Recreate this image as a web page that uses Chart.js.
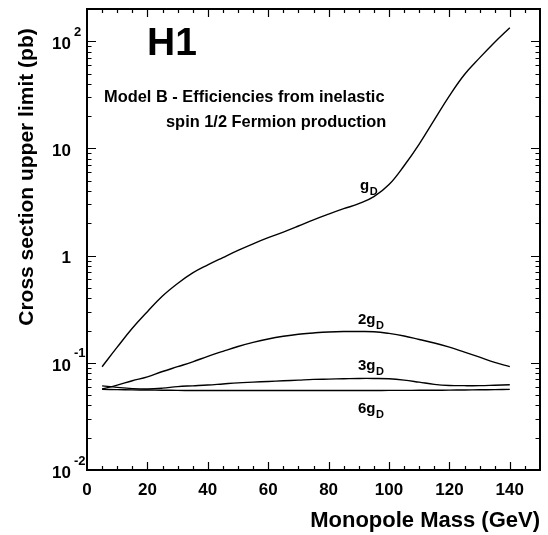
<!DOCTYPE html>
<html>
<head>
<meta charset="utf-8">
<script src="https://cdn.jsdelivr.net/npm/chart.js@4.4.1/dist/chart.umd.min.js"></script>
<style>
  html, body { margin: 0; padding: 0; background: #fff; }
  #wrap { width: 548px; height: 535px; }
</style>
</head>
<body>
<div id="wrap"><canvas id="c" width="548" height="535"></canvas></div>
<script>
// ---- data ----
const masses = [5,10,15,20,25,30,35,40,45,50,55,60,65,70,75,80,85,90,95,100,105,110,115,120,125,130,135,140];
const gD  = [0.092,0.14,0.21,0.30,0.42,0.55,0.69,0.82,0.96,1.12,1.29,1.47,1.66,1.89,2.16,2.44,2.74,3.05,3.55,4.6,6.9,11,18.5,31,49,70,98,134];
const g2D = [0.057,0.062,0.068,0.074,0.083,0.092,0.102,0.115,0.128,0.142,0.155,0.167,0.177,0.185,0.190,0.194,0.196,0.196,0.195,0.188,0.178,0.165,0.153,0.140,0.126,0.113,0.101,0.092];
const g3D = [0.061,0.059,0.0575,0.057,0.058,0.060,0.061,0.062,0.0635,0.065,0.066,0.067,0.068,0.069,0.070,0.0705,0.071,0.0715,0.0715,0.071,0.069,0.066,0.063,0.0615,0.0612,0.0612,0.0618,0.0625];
const g6D = [0.0565,0.0562,0.0559,0.0557,0.0555,0.0553,0.0552,0.0552,0.0552,0.0552,0.0552,0.0552,0.0552,0.0552,0.0552,0.0552,0.0552,0.0552,0.0552,0.0553,0.0553,0.0554,0.0555,0.0556,0.0558,0.0560,0.0562,0.0565];
const seriesNames = ["g", "2g", "3g", "6g"];
const xTickValues = [0,20,40,60,80,100,120,140];
const xTickLabels = ["0","20","40","60","80","100","120","140"];
const yTickValues = [100,10,1,0.1,0.01];
const yTickBase = ["10","10","1","10","10"];
const yTickExp  = ["2","","","-1","-2"];
const xTitle = "Monopole Mass (GeV)";
const yTitle = "Cross section upper limit (pb)";
const bigLabel = "H1";
const noteLines = ["Model B - Efficiencies from inelastic", "spin 1/2 Fermion production"];

const FONT = '"Liberation Sans", Arial, Helvetica, sans-serif';

function mk(arr){ return masses.map((m,i)=>({x:m, y:arr[i]})); }

const curveLabelPos = [
  {x: 360, y: 190, text: "g", sub: "D"},
  {x: 358, y: 324, text: "2g", sub: "D"},
  {x: 358, y: 369.5, text: "3g", sub: "D"},
  {x: 358, y: 413, text: "6g", sub: "D"}
];

const framePlugin = {
  id: 'frame',
  afterDraw(chart) {
    const ctx = chart.ctx;
    const a = chart.chartArea;
    const xs = chart.scales.x, ys = chart.scales.y;
    ctx.save();
    ctx.strokeStyle = '#000';
    ctx.fillStyle = '#000';
    // frame
    ctx.lineWidth = 2;
    ctx.strokeRect(a.left, a.top, a.right - a.left, a.bottom - a.top);
    ctx.lineWidth = 1.2;
    // x ticks (bottom and top, inward)
    for (let v = 5; v < 150; v += 5) {
      const px = Math.round(xs.getPixelForValue(v)) + 0.5;
      const major = (v % 20 === 0);
      const L = major ? 8 : 4;
      ctx.beginPath();
      ctx.moveTo(px, a.bottom); ctx.lineTo(px, a.bottom - L);
      ctx.moveTo(px, a.top); ctx.lineTo(px, a.top + L);
      ctx.stroke();
    }
    // y ticks (left and right, inward)
    for (let e = -2; e <= 2; e++) {
      for (let k = 1; k <= 9; k++) {
        const v = k * Math.pow(10, e);
        if (v > 200 || v < 0.01) continue;
        const py = Math.round(ys.getPixelForValue(v)) + 0.5;
        if (py <= a.top + 1 || py >= a.bottom - 1) continue;
        const major = (k === 1);
        const L = major ? 9 : 4.5;
        ctx.beginPath();
        ctx.moveTo(a.left, py); ctx.lineTo(a.left + L, py);
        ctx.moveTo(a.right, py); ctx.lineTo(a.right - L, py);
        ctx.stroke();
      }
    }
    // x tick labels
    ctx.font = 'bold 17px ' + FONT;
    ctx.textAlign = 'center';
    ctx.textBaseline = 'middle';
    xTickValues.forEach((v, i) => {
      ctx.fillText(xTickLabels[i], xs.getPixelForValue(v), 490);
    });
    // y tick labels
    yTickValues.forEach((v, i) => {
      const py = ys.getPixelForValue(v);
      ctx.font = 'bold 17px ' + FONT;
      ctx.textAlign = 'right';
      ctx.textBaseline = 'middle';
      ctx.fillText(yTickBase[i], 71, py + 3);
      if (yTickExp[i]) {
        ctx.font = 'bold 13px ' + FONT;
        ctx.textAlign = 'left';
        ctx.fillText(yTickExp[i], 74, py - 9);
      }
    });
    // axis titles
    ctx.font = 'bold 22px ' + FONT;
    ctx.textAlign = 'right';
    ctx.textBaseline = 'middle';
    ctx.fillText(xTitle, 540, 521);
    ctx.save();
    ctx.translate(27, 177);
    ctx.rotate(-Math.PI / 2);
    ctx.textAlign = 'center';
    ctx.font = 'bold 21px ' + FONT;
    ctx.fillText(yTitle, 0, 0);
    ctx.restore();
    // H1
    ctx.font = 'bold 39px ' + FONT;
    ctx.textAlign = 'left';
    ctx.textBaseline = 'alphabetic';
    ctx.fillText(bigLabel, 147, 55);
    // note
    ctx.font = 'bold 16.4px ' + FONT;
    ctx.textAlign = 'left';
    ctx.fillText(noteLines[0], 104, 102);
    ctx.fillText(noteLines[1], 166, 127);
    // curve labels
    curveLabelPos.forEach(l => {
      ctx.font = 'bold 15px ' + FONT;
      ctx.textAlign = 'left';
      ctx.fillText(l.text, l.x, l.y);
      const w = ctx.measureText(l.text).width;
      ctx.font = 'bold 11px ' + FONT;
      ctx.fillText(l.sub, l.x + w + 0.5, l.y + 5);
    });
    ctx.restore();
  }
};

const lineStyle = { borderColor: '#000', borderWidth: 1.4, pointRadius: 0, fill: false, tension: 0.4 };

new Chart(document.getElementById('c'), {
  type: 'line',
  data: {
    datasets: [
      Object.assign({ label: seriesNames[0], data: mk(gD) }, lineStyle),
      Object.assign({ label: seriesNames[1], data: mk(g2D) }, lineStyle),
      Object.assign({ label: seriesNames[2], data: mk(g3D) }, lineStyle),
      Object.assign({ label: seriesNames[3], data: mk(g6D) }, lineStyle)
    ]
  },
  options: {
    responsive: false,
    animation: false,
    devicePixelRatio: 1,
    layout: { padding: { left: 87, right: 8, top: 9, bottom: 65 } },
    plugins: { legend: { display: false }, tooltip: { enabled: false } },
    scales: {
      x: { type: 'linear', min: 0, max: 150, display: false },
      y: { type: 'logarithmic', min: 0.01, max: 200, display: false }
    }
  },
  plugins: [framePlugin]
});
</script>
</body>
</html>
